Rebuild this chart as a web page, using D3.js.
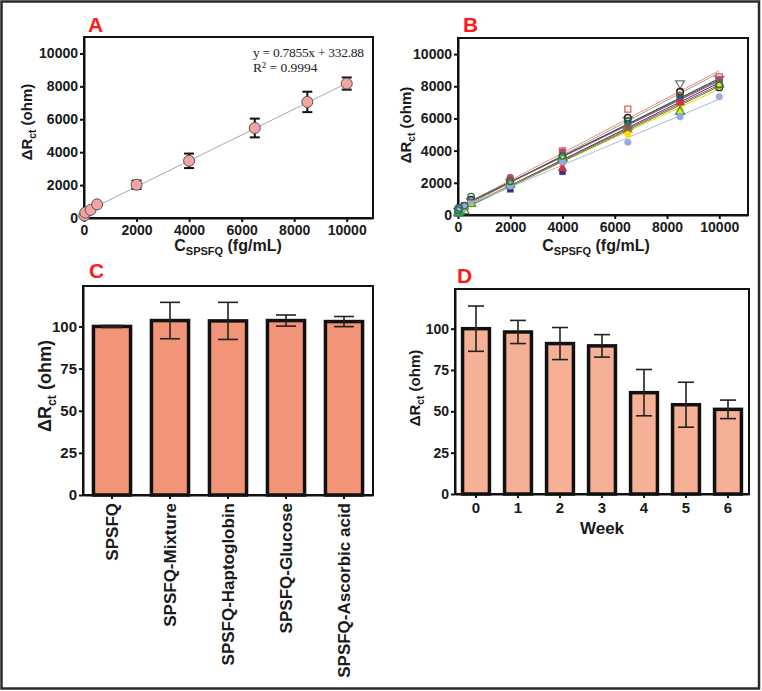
<!DOCTYPE html>
<html>
<head>
<meta charset="utf-8">
<script src="https://cdn.jsdelivr.net/npm/d3@7"></script>
<style>
  body { margin: 0; background: #fff; }
  text { font-family: "Liberation Sans", Arial, sans-serif; }
</style>
</head>
<body>
<script>
// Panel A: calibration
const concA = [10, 50, 250, 500, 2000, 4000, 6500, 8500, 10000];
const meanA = [150, 330, 490, 830, 2020, 3475, 5470, 7055, 8170];
const errA = [0, 0, 0, 0, 250, 440, 570, 620, 370];
const fitSlope = 0.7855;
const fitIntercept = 332.88;
const axisTicksXY = [0, 2000, 4000, 6000, 8000, 10000];

// Panel B: repeated series
const concB = [10, 50, 250, 500, 2000, 4000, 6500, 8500, 10000];
const seriesB = [
    { name: 's1', shape: 'square', filled: false, color: '#e8604c', line: '#f08a78', values: [300, 420, 560, 900, 2150, 3990, 6580, 7620, 8590] },
    { name: 's2', shape: 'down', filled: false, color: '#777777', line: '#999999', values: [250, 380, 520, 850, 2050, 3250, 5900, 8180, 8450] },
    { name: 's3', shape: 'circle', filled: false, color: '#222222', line: '#333333', values: [280, 400, 560, 950, 2000, 3600, 6040, 7660, 7930] },
    { name: 's4', shape: 'square', filled: true, color: '#35308a', line: '#3a3590', values: [300, 450, 600, 800, 1600, 2690, 5650, 7200, 8260] },
    { name: 's5', shape: 'circle', filled: true, color: '#c2407f', line: '#c2407f', values: [260, 380, 550, 900, 2340, 3930, 5440, 6975, 8385] },
    { name: 's6', shape: 'triangle', filled: true, color: '#d8343a', line: '#d8343a', values: [200, 320, 480, 820, 2050, 2900, 5300, 7000, 8200] },
    { name: 's7', shape: 'circle', filled: true, color: '#f2e600', line: '#e6d800', values: [200, 300, 450, 750, 1900, 3500, 5010, 6520, 8000] },
    { name: 's8', shape: 'triangle', filled: false, color: '#2f9a45', line: '#2f9a45', values: [120, 200, 250, 700, 1900, 3500, 5500, 6420, 8100] },
    { name: 's9', shape: 'circle', filled: true, color: '#9aa8dc', line: '#aab6e4', values: [250, 380, 500, 850, 1800, 3300, 4520, 6100, 7350] },
    { name: 's10', shape: 'circle', filled: false, color: '#2d6e55', line: '#2d6e55', values: [300, 420, 580, 1140, 2100, 3680, 5800, 7400, 8100] }
];

// Panel C: selectivity
const categoriesC = ['SPSFQ', 'SPSFQ-Mixture', 'SPSFQ-Haptoglobin', 'SPSFQ-Glucose', 'SPSFQ-Ascorbic acid'];
const valuesC = [100, 103.5, 103.3, 103.5, 102.9];
const errC = [0.6, 10.8, 11, 3.3, 3];

// Panel D: stability
const weeksD = ['0', '1', '2', '3', '4', '5', '6'];
const valuesD = [100, 98, 91, 89.6, 61.3, 54, 51.2];
const errD = [13.7, 7, 9.7, 6.8, 14, 13.6, 5.6];
const barTicks = [0, 25, 50, 75, 100];

const svg = d3.select('body').append('svg')
    .attr('width', 762)
    .attr('height', 691);

svg.append('rect')
    .attr('x', 0).attr('y', 0).attr('width', 762).attr('height', 691)
    .attr('fill', '#fff');

// outer frame
svg.append('rect')
    .attr('x', 1.5).attr('y', 1.5).attr('width', 757.5).attr('height', 687)
    .attr('fill', 'none').attr('stroke', '#2a2a2a').attr('stroke-width', 2.5);

function styleAxis(g, size) {
    g.selectAll('path.domain').attr('stroke', '#111').attr('stroke-width', 2);
    g.selectAll('.tick line').attr('stroke', '#111').attr('stroke-width', 2);
    g.selectAll('.tick text')
        .attr('fill', '#1a1a1a')
        .style('font-size', (size || 14) + 'px')
        .style('font-weight', 'bold');
}

function frame(f) {
    svg.append('rect')
        .attr('x', f.x0).attr('y', f.y0)
        .attr('width', f.x1 - f.x0).attr('height', f.y1 - f.y0)
        .attr('fill', 'none').attr('stroke', '#111').attr('stroke-width', 2);
}

function panelLetter(letter, x, y) {
    svg.append('text')
        .attr('x', x).attr('y', y)
        .attr('fill', '#ff1a1a')
        .style('font-size', '21px')
        .style('font-weight', 'bold')
        .text(letter);
}

function yLabel(x, y, size) {
    const t = svg.append('text')
        .attr('transform', `translate(${x},${y}) rotate(-90)`)
        .attr('text-anchor', 'middle')
        .attr('dy', '0.35em')
        .attr('fill', '#1a1a1a')
        .style('font-size', size + 'px')
        .style('font-weight', 'bold');
    t.append('tspan').text('\u0394R');
    t.append('tspan').attr('dy', size * 0.28).style('font-size', (size * 0.68) + 'px').text('ct');
    t.append('tspan').attr('dy', -size * 0.28).text(' (ohm)');
}

function xLabelConc(x, y) {
    const t = svg.append('text')
        .attr('x', x).attr('y', y)
        .attr('text-anchor', 'middle')
        .attr('fill', '#1a1a1a')
        .style('font-size', '16px')
        .style('font-weight', 'bold');
    t.append('tspan').text('C');
    t.append('tspan').attr('dy', 4).style('font-size', '11px').text('SPSFQ');
    t.append('tspan').attr('dy', -4).text(' (fg/mL)');
}

const fmtInt = d3.format('d');

// ---------- Panel A ----------
{
    const f = { x0: 84, x1: 373, y0: 37, y1: 218 };
    const x = d3.scaleLinear().domain([0, 11000]).range([f.x0, f.x1]);
    const y = d3.scaleLinear().domain([0, 11000]).range([f.y1, f.y0]);

    frame(f);
    svg.append('g').attr('transform', `translate(0,${f.y1})`)
        .call(d3.axisBottom(x).tickValues(axisTicksXY).tickFormat(fmtInt).tickSize(4).tickPadding(3).tickSizeOuter(0))
        .call(g => styleAxis(g));
    svg.append('g').attr('transform', `translate(${f.x0},0)`)
        .call(d3.axisLeft(y).tickValues(axisTicksXY).tickFormat(fmtInt).tickSize(4).tickPadding(2).tickSizeOuter(0))
        .call(g => styleAxis(g));

    // fit line
    svg.append('line')
        .attr('x1', x(0)).attr('y1', y(fitIntercept))
        .attr('x2', x(10000)).attr('y2', y(fitSlope * 10000 + fitIntercept))
        .attr('stroke', '#a8a8a8').attr('stroke-width', 1);

    const pts = concA.map((c, i) => ({ c, m: meanA[i], e: errA[i] }));
    const eb = svg.append('g').attr('stroke', '#111').attr('stroke-width', 2);
    pts.filter(d => d.e > 0).forEach(d => {
        eb.append('line').attr('x1', x(d.c)).attr('x2', x(d.c)).attr('y1', y(d.m - d.e)).attr('y2', y(d.m + d.e));
        eb.append('line').attr('x1', x(d.c) - 5).attr('x2', x(d.c) + 5).attr('y1', y(d.m - d.e)).attr('y2', y(d.m - d.e));
        eb.append('line').attr('x1', x(d.c) - 5).attr('x2', x(d.c) + 5).attr('y1', y(d.m + d.e)).attr('y2', y(d.m + d.e));
    });
    svg.append('g').selectAll('circle')
        .data(pts)
        .enter()
        .append('circle')
        .attr('cx', d => x(d.c))
        .attr('cy', d => y(d.m))
        .attr('r', 5.5)
        .attr('fill', '#f4a3a3')
        .attr('stroke', '#555')
        .attr('stroke-width', 1);

    const eq = svg.append('g')
        .attr('fill', '#222')
        .style('font-size', '13.5px');
    eq.append('text').attr('x', 253).attr('y', 57).style('font-family', '"Liberation Serif", "Times New Roman", serif')
        .attr('textLength', 111).text('y = 0.7855x + 332.88');
    eq.append('text').attr('x', 253).attr('y', 72).style('font-family', '"Liberation Serif", "Times New Roman", serif')
        .text('R\u00b2 = 0.9994');

    panelLetter('A', 88, 32);
    yLabel(27, 122, 15);
    xLabelConc(228, 251);
}

// ---------- Panel B ----------
{
    const f = { x0: 458, x1: 748, y0: 38, y1: 215 };
    const x = d3.scaleLinear().domain([0, 11100]).range([f.x0, f.x1]);
    const y = d3.scaleLinear().domain([0, 11000]).range([f.y1, f.y0]);

    frame(f);
    svg.append('g').attr('transform', `translate(0,${f.y1})`)
        .call(d3.axisBottom(x).tickValues(axisTicksXY).tickFormat(fmtInt).tickSize(4).tickPadding(3).tickSizeOuter(0))
        .call(g => styleAxis(g));
    svg.append('g').attr('transform', `translate(${f.x0},0)`)
        .call(d3.axisLeft(y).tickValues(axisTicksXY).tickFormat(fmtInt).tickSize(4).tickPadding(2).tickSizeOuter(0))
        .call(g => styleAxis(g));

    // least squares fit per series
    seriesB.forEach(s => {
        const mx = d3.mean(concB);
        const my = d3.mean(s.values);
        const num = d3.sum(concB, (c, i) => (c - mx) * (s.values[i] - my));
        const den = d3.sum(concB, c => (c - mx) * (c - mx));
        s.slope = num / den;
        s.intercept = my - s.slope * mx;
    });

    svg.append('g').selectAll('line')
        .data(seriesB)
        .enter()
        .append('line')
        .attr('x1', x(0)).attr('y1', d => y(d.intercept))
        .attr('x2', x(10000)).attr('y2', d => y(d.slope * 10000 + d.intercept))
        .attr('stroke', d => d.line)
        .attr('stroke-width', 1);

    const symType = { square: d3.symbolSquare, circle: d3.symbolCircle, triangle: d3.symbolTriangle, down: d3.symbolTriangle };
    seriesB.forEach(s => {
        const sym = d3.symbol().type(symType[s.shape]).size(s.shape === 'square' ? 36 : 34);
        svg.append('g').selectAll('path')
            .data(s.values.map((v, i) => ({ c: concB[i], v })))
            .enter()
            .append('path')
            .attr('d', sym)
            .attr('transform', d => `translate(${x(d.c)},${y(d.v)})` + (s.shape === 'down' ? ' rotate(180)' : ''))
            .attr('fill', s.filled ? s.color : 'none')
            .attr('stroke', s.color)
            .attr('stroke-width', s.filled ? 0.5 : 1.3);
    });

    panelLetter('B', 463, 32);
    yLabel(406, 125, 15);
    xLabelConc(596, 251);
}

// ---------- Bar panels ----------
function barPanel(f, cats, vals, errs, fill, opts) {
    const x = d3.scaleBand().domain(cats).range([f.x0, f.x1]).paddingInner(0.36).paddingOuter(0.18);
    const y = d3.scaleLinear().domain([0, 124]).range([f.y1, f.y0]);

    frame(f);
    const data = cats.map((c, i) => ({ c, v: vals[i], e: errs[i] }));

    svg.append('g').selectAll('rect')
        .data(data)
        .enter()
        .append('rect')
        .attr('x', d => x(d.c))
        .attr('y', d => y(d.v))
        .attr('width', x.bandwidth())
        .attr('height', d => y(0) - y(d.v))
        .attr('fill', fill)
        .attr('stroke', '#111')
        .attr('stroke-width', 3.5);

    const cap = opts.cap;
    const eb = svg.append('g').attr('stroke', '#222').attr('stroke-width', 1.6);
    data.forEach(d => {
        const cx = x(d.c) + x.bandwidth() / 2;
        eb.append('line').attr('x1', cx).attr('x2', cx).attr('y1', y(d.v - d.e)).attr('y2', y(d.v + d.e));
        eb.append('line').attr('x1', cx - cap).attr('x2', cx + cap).attr('y1', y(d.v - d.e)).attr('y2', y(d.v - d.e));
        eb.append('line').attr('x1', cx - cap).attr('x2', cx + cap).attr('y1', y(d.v + d.e)).attr('y2', y(d.v + d.e));
    });

    svg.append('g').attr('transform', `translate(${f.x0},0)`)
        .call(d3.axisLeft(y).tickValues(barTicks).tickSize(4).tickPadding(2).tickSizeOuter(0))
        .call(g => styleAxis(g, opts.tickSize));

    const xa = svg.append('g').attr('transform', `translate(0,${f.y1})`)
        .call(d3.axisBottom(x).tickSize(4).tickPadding(4).tickSizeOuter(0))
        .call(g => styleAxis(g, opts.xTickSize));
    if (opts.rotate) {
        xa.selectAll('.tick text')
            .attr('transform', 'rotate(-90)')
            .attr('text-anchor', 'end')
            .attr('x', -8)
            .attr('y', 0)
            .attr('dy', '0.35em');
    }
    return x;
}

// ---------- Panel C ----------
{
    const f = { x0: 83, x1: 373, y0: 286, y1: 495 };
    barPanel(f, categoriesC, valuesC, errC, '#f29478', { cap: 10, tickSize: 15, xTickSize: 17, rotate: true });
    panelLetter('C', 89, 278);
    yLabel(45, 386, 18);
}

// ---------- Panel D ----------
{
    const f = { x0: 455, x1: 749, y0: 289, y1: 494 };
    barPanel(f, weeksD, valuesD, errD, '#f5b096', { cap: 8, tickSize: 14, xTickSize: 15, rotate: false });
    panelLetter('D', 457, 283);
    yLabel(415, 388, 15);
    svg.append('text')
        .attr('x', 602).attr('y', 534)
        .attr('text-anchor', 'middle')
        .attr('fill', '#1a1a1a')
        .style('font-size', '17px')
        .style('font-weight', 'bold')
        .text('Week');
}
</script>
</body>
</html>
